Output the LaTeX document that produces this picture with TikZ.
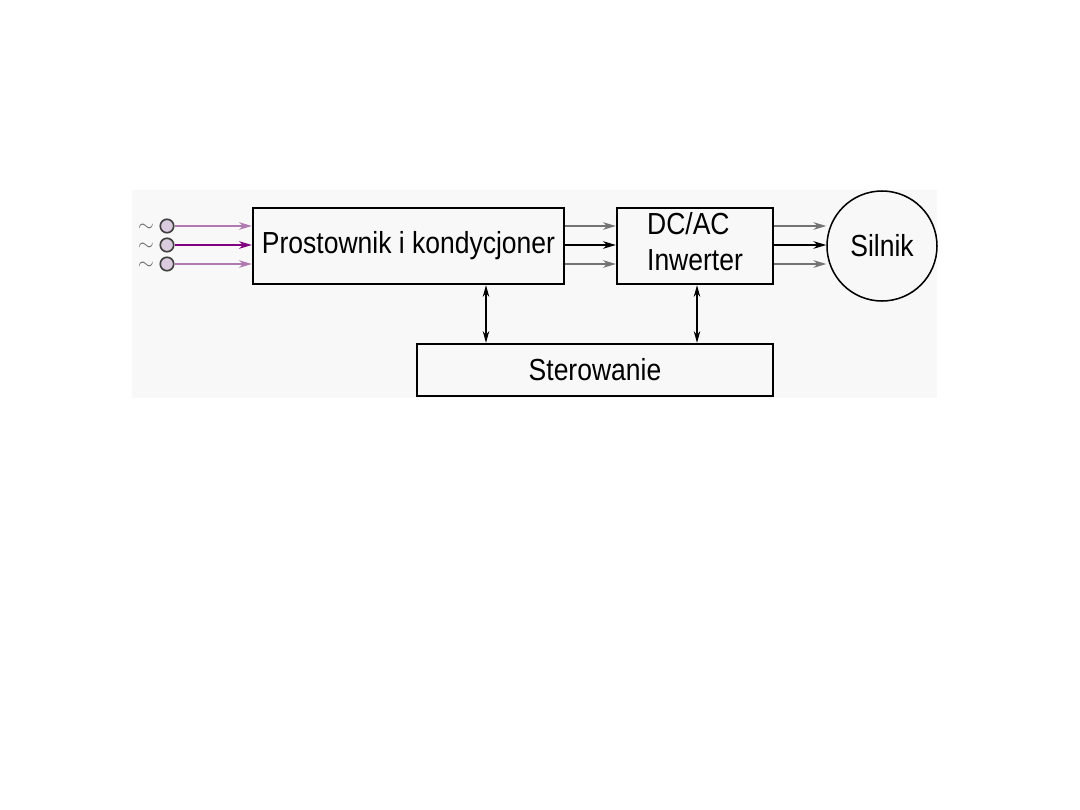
\documentclass[tikz,border=0pt]{standalone}
\usepackage{fontspec}
\setmainfont{Liberation Sans}
\usetikzlibrary{arrows.meta}
\definecolor{pdark}{HTML}{800080}
\definecolor{plight}{HTML}{B07AB0}
\definecolor{cfill}{HTML}{DACCDE}
\definecolor{bggray}{HTML}{F8F8F8}
\newcommand{\lbl}[1]{\scalebox{0.87}[1]{\fontsize{26pt}{28pt}\selectfont #1}}
\tikzset{
  blk/.style={draw=black, line width=2pt, rectangle, inner sep=0pt},
  tip/.style={-{Stealth[length=11pt,width=6.5pt]}},
  dtip/.style={{Stealth[length=10pt,width=5.5pt]}-{Stealth[length=10pt,width=5.5pt]}},
  term/.style={circle, draw=black!75, fill=cfill, line width=1.4pt, minimum size=11.5pt, inner sep=0pt},
  wl/.style={line width=1.2pt}
}
\begin{document}
\begin{tikzpicture}[x=0.03cm, y=-0.03cm]
\useasboundingbox (0,0) rectangle (1080,810);
\fill[white] (0,0) rectangle (1080,810);
\fill[bggray] (132,190) rectangle (937,398);
% blocks
\node[blk, minimum width=9.33cm, minimum height=2.28cm] (pk) at (408.5,246) {\lbl{Prostownik i kondycjoner}};
\node[blk, minimum width=4.68cm, minimum height=2.28cm] (dc) at (695,246) {\lbl{\begin{tabular}{@{}l@{}}DC/AC\\[2pt]Inwerter\end{tabular}}};
\node[blk, minimum width=10.68cm, minimum height=1.56cm] (st) at (595,370) {\lbl{Sterowanie}};
\node[circle, draw=black, line width=1.3pt, minimum size=3.3cm, inner sep=0pt] (sil) at (882,246) {\lbl{Silnik}};
% input terminals
\node[term] (c1) at (167,226) {};
\node[term] (c2) at (167,245) {};
\node[term] (c3) at (167,264) {};
\node[text=black!60, inner sep=0pt] (t1) at (146,228) {\LARGE$\sim$};
\node[text=black!60, inner sep=0pt] (t2) at (146,247) {\LARGE$\sim$};
\node[text=black!60, inner sep=0pt] (t3) at (146,266) {\LARGE$\sim$};
% input arrows
\draw[tip, wl, plight] (c1) -- (c1 -| pk.west);
\draw[tip, wl, pdark] (c2) -- (c2 -| pk.west);
\draw[tip, wl, plight] (c3) -- (c3 -| pk.west);
% rectifier -> inverter
\draw[tip, wl, black!55] (pk.east |- c1) -- (dc.west |- c1);
\draw[tip, wl, black] (pk.east |- c2) -- (dc.west |- c2);
\draw[tip, wl, black!55] (pk.east |- c3) -- (dc.west |- c3);
% inverter -> motor
\draw[tip, wl, black!55] (dc.east |- c1) -- (c1 -| sil.west);
\draw[tip, wl, black] (dc.east |- c2) -- (c2 -| sil.west);
\draw[tip, wl, black!55] (dc.east |- c3) -- (c3 -| sil.west);
% control links
\coordinate (v1) at (486,0);
\coordinate (v2) at (697,0);
\draw[dtip, line width=0.9pt] (pk.south -| v1) -- (st.north -| v1);
\draw[dtip, line width=0.9pt] (dc.south -| v2) -- (st.north -| v2);
\end{tikzpicture}
\end{document}
